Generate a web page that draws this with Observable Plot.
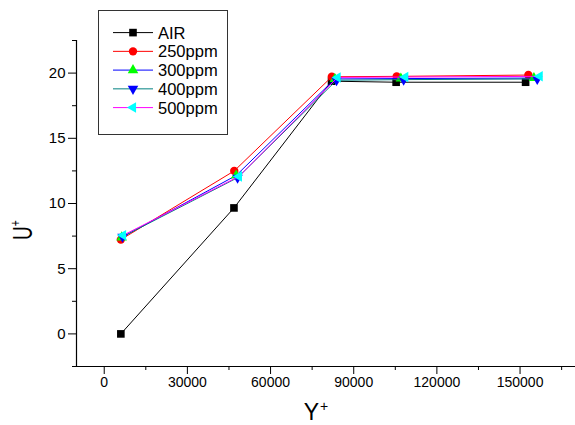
<!DOCTYPE html>
<html>
<head>
<meta charset="utf-8">
<script src="https://cdn.jsdelivr.net/npm/d3@7"></script>
<script src="https://cdn.jsdelivr.net/npm/@observablehq/plot@0.6"></script>
<style>
  html, body { margin: 0; padding: 0; background: #fff; }
  #wrap { position: relative; width: 575px; height: 425px; font-family: "Liberation Sans", Arial, sans-serif; }
  #legend { position: absolute; left: 98px; top: 10px; width: 128px; height: 123px; border: 1.5px solid #333; background: #fff; box-sizing: content-box; }
</style>
</head>
<body>
<div id="wrap"><div id="legend"></div></div>
<script>
// ---- data ----
const seriesNames = ["AIR", "250ppm", "300ppm", "400ppm", "500ppm"];
const airX  = [6000, 46800, 82000, 105300, 152000];
const airY  = [0, 9.66, 19.38, 19.3, 19.3];
const p250X = [6000, 46900, 82100, 105500, 153000];
const p250Y = [7.23, 12.5, 19.72, 19.75, 19.85];
const p300X = [6300, 47600, 83200, 107000, 155000];
const p300Y = [7.4, 12.15, 19.55, 19.58, 19.62];
const p400X = [6600, 48100, 83800, 108000, 156200];
const p400Y = [7.45, 11.98, 19.45, 19.5, 19.55];
const p500X = [6800, 48600, 84200, 108600, 157100];
const p500Y = [7.56, 12.08, 19.67, 19.7, 19.75];
const xTicks = [0, 30000, 60000, 90000, 120000, 150000];
const xMinor = [15000, 45000, 75000, 105000, 135000, 165000];
const yTicks = [0, 5, 10, 15, 20];
const yMinor = [-2.5, 2.5, 7.5, 12.5, 17.5, 22.5];

// ---- symbols ----
const triDown = {draw(ctx, size) {
  const y = -Math.sqrt(size / (Math.sqrt(3) * 3)), s3 = Math.sqrt(3);
  ctx.moveTo(0, -2 * y); ctx.lineTo(s3 * y, y); ctx.lineTo(-s3 * y, y); ctx.closePath();
}};
const triLeft = {draw(ctx, size) {
  const y = -Math.sqrt(size / (Math.sqrt(3) * 3)), s3 = Math.sqrt(3);
  ctx.moveTo(2 * y, 0); ctx.lineTo(-y, -s3 * y); ctx.lineTo(-y, s3 * y); ctx.closePath();
}};

const styles = [
  {line: "#000000", fill: "#000000", symbol: "square", r: 4.3, d3sym: d3.symbolSquare},
  {line: "#ff0000", fill: "#ff0000", symbol: "circle", r: 4.2, d3sym: d3.symbolCircle},
  {line: "#0000ff", fill: "#00ff00", symbol: "triangle", r: 3.9, d3sym: d3.symbolTriangle},
  {line: "#008080", fill: "#0000ff", symbol: triDown, r: 3.9, d3sym: triDown},
  {line: "#ff00ff", fill: "#00ffff", symbol: triLeft, r: 3.9, d3sym: triLeft}
];
const xs = [airX, p250X, p300X, p400X, p500X];
const ys = [airY, p250Y, p300Y, p400Y, p500Y];
const tables = seriesNames.map((name, i) => xs[i].map((x, j) => ({series: name, x, y: ys[i][j]})));

const marks = [
  Plot.ruleX([-10000], {stroke: "#000", strokeWidth: 1.2}),
  Plot.ruleY([-2.5], {stroke: "#000", strokeWidth: 1.2}),
  Plot.axisX({ticks: xTicks, tickSize: 8, tickPadding: 3, tickFormat: "d", label: null, fontSize: 14}),
  Plot.axisX({ticks: xMinor, tickSize: 4, tickFormat: () => "", label: null}),
  Plot.axisY({ticks: yTicks, tickSize: 8, tickPadding: 3, tickFormat: "d", label: null, fontSize: 15}),
  Plot.axisY({ticks: yMinor, tickSize: 4, tickFormat: () => "", label: null})
];
tables.forEach((t, i) => {
  marks.push(Plot.line(t, {x: "x", y: "y", stroke: styles[i].line, strokeWidth: 1}));
  marks.push(Plot.dot(t, {x: "x", y: "y", symbol: () => styles[i].symbol, r: styles[i].r, fill: styles[i].fill, stroke: "none"}));
});

const chart = Plot.plot({
  width: 575, height: 425,
  marginLeft: 76, marginRight: 0, marginTop: 40, marginBottom: 59,
  style: {fontFamily: "Liberation Sans, Arial, sans-serif", fontSize: "14px", color: "#000", background: "#fff"},
  x: {domain: [-10000, 170000]},
  y: {domain: [-2.5, 22.5]},
  symbol: {type: "identity"},
  marks
});
document.getElementById("wrap").insertBefore(chart, document.getElementById("legend"));

// axis titles with superscripts
const svg = d3.select(chart);
const xt = svg.append("text").attr("x", 316).attr("y", 420).attr("font-size", 23).attr("fill", "#000")
  .attr("font-family", "Liberation Sans, Arial, sans-serif");
xt.append("tspan").text("Y");
xt.append("tspan").attr("font-size", 14).attr("dx", 1).attr("dy", -9).text("+");
const yt = svg.append("text").attr("transform", "translate(32,230) rotate(-90) scale(0.7,1)").attr("font-size", 27).attr("fill", "#000")
  .attr("font-family", "Liberation Sans, Arial, sans-serif");
yt.append("tspan").text("U");
yt.append("tspan").attr("font-size", 15).attr("dy", -12).text("+");

// legend
const lg = d3.select("#legend").append("svg").attr("width", 128).attr("height", 123);
seriesNames.forEach((name, i) => {
  const cy = 21.6 + i * 18.75;
  lg.append("line").attr("x1", 14).attr("x2", 54).attr("y1", cy).attr("y2", cy).attr("stroke", styles[i].line).attr("stroke-width", 1);
  const r = styles[i].r;
  lg.append("path").attr("transform", `translate(34,${cy})`)
    .attr("d", d3.symbol(styles[i].d3sym, r * r * Math.PI)())
    .attr("fill", styles[i].fill);
  lg.append("text").attr("x", 59).attr("y", cy).attr("dy", "0.36em").attr("font-size", 16.5)
    .attr("font-family", "Liberation Sans, Arial, sans-serif").text(name);
});
</script>
</body>
</html>
